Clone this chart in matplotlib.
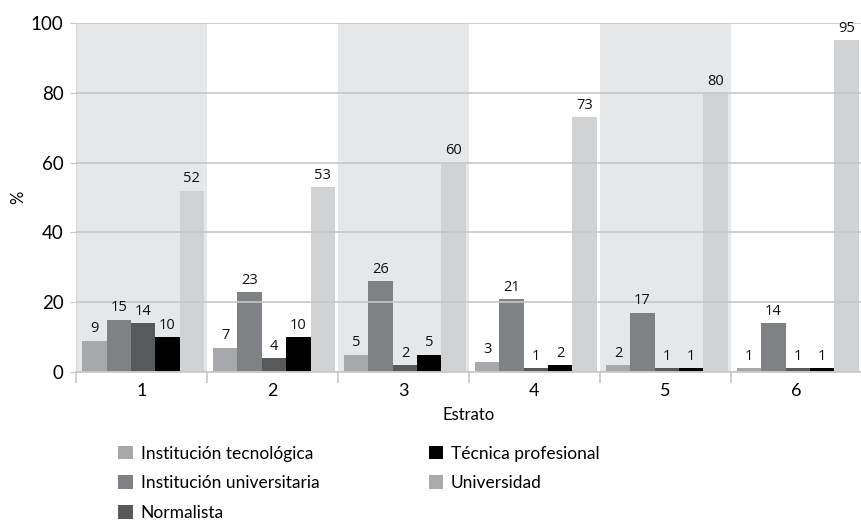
import matplotlib
matplotlib.use("Agg")
import matplotlib.pyplot as plt
from matplotlib.patches import Patch
import numpy as np

estratos = ["1", "2", "3", "4", "5", "6"]
series_names = ["Institución tecnológica", "Institución universitaria",
                "Normalista", "Técnica profesional", "Universidad"]
tecnologica = [9, 7, 5, 3, 2, 1]
universitaria = [15, 23, 26, 21, 17, 14]
normalista = [14, 4, 2, 1, 1, 1]
tecnica = [10, 10, 5, 2, 1, 1]
universidad = [52, 53, 60, 73, 80, 95]

values = [tecnologica, universitaria, normalista, tecnica, universidad]
bar_colors = ["#a7a8ab", "#808184", "#58595b", "#000000", "#d1d2d4"]
legend_colors = ["#a7a8ab", "#808184", "#58595b", "#000000", "#a9aaad"]

plt.rcParams['font.family'] = ['Lato', 'DejaVu Sans']

fig = plt.figure(figsize=(8.61, 5.26), dpi=100)
ax = fig.add_axes([0.0883, 0.2928, 0.9125, 0.6635])

n = len(estratos)
x = np.arange(n)
bw = 0.186
offsets = (np.arange(5) - 2) * bw + 0.012

# alternating shaded bands for odd strata
for i in range(0, n, 2):
    ax.axvspan(i - 0.5, i + 0.5, color="#e6e7e8", zorder=0, lw=0)

ax.set_ylim(0, 100)
ax.set_xlim(-0.5, n - 0.5)
ax.set_yticks([0, 20, 40, 60, 80, 100])
ax.yaxis.grid(True, color="#c6c7c9", lw=1.2, zorder=1)
ax.set_axisbelow(False)

for k, (vals, col) in enumerate(zip(values, bar_colors)):
    bars = ax.bar(x + offsets[k], vals, width=bw, color=col, zorder=2, lw=0)
    for b, v in zip(bars, vals):
        ax.text(b.get_x() + b.get_width() / 2, v + 1.2, str(v),
                ha="center", va="bottom", fontsize=10.5, color="#111111",
                family=['Open Sans', 'DejaVu Sans'], zorder=3)

# group boundary ticks on x axis
ax.set_xticks(x)
ax.set_xticklabels(estratos, fontsize=13)
ax.set_xticks(np.arange(-0.5, n, 1.0), minor=True)
ax.tick_params(axis="x", which="major", length=0, pad=8)
ax.tick_params(axis="x", which="minor", length=8, color="#c6c7c9", width=1.2)
ax.tick_params(axis="y", length=4, color="#c6c7c9", labelsize=13.5, pad=5)

for side in ["top", "right"]:
    ax.spines[side].set_visible(False)
ax.spines["left"].set_color("#d5d6d8")
ax.spines["bottom"].set_color("#c6c7c9")
ax.spines["bottom"].set_linewidth(1.2)

ax.set_ylabel("%", fontsize=12)
ax.yaxis.set_label_coords(-0.074, 0.5)
ax.yaxis.label.set_verticalalignment("center")
ax.set_xlabel("Estrato", fontsize=12, labelpad=6)

handles = [Patch(facecolor=c, edgecolor="none") for c in legend_colors]
fig.legend(handles, series_names, loc="upper left", bbox_to_anchor=(0.137, 0.153),
           ncol=2, frameon=False, fontsize=12.5, handlelength=0.85, handleheight=0.85,
           handletextpad=0.45, columnspacing=6.3, labelspacing=0.8,
           borderaxespad=0, borderpad=0)

fig.savefig("out.png", dpi=100)
